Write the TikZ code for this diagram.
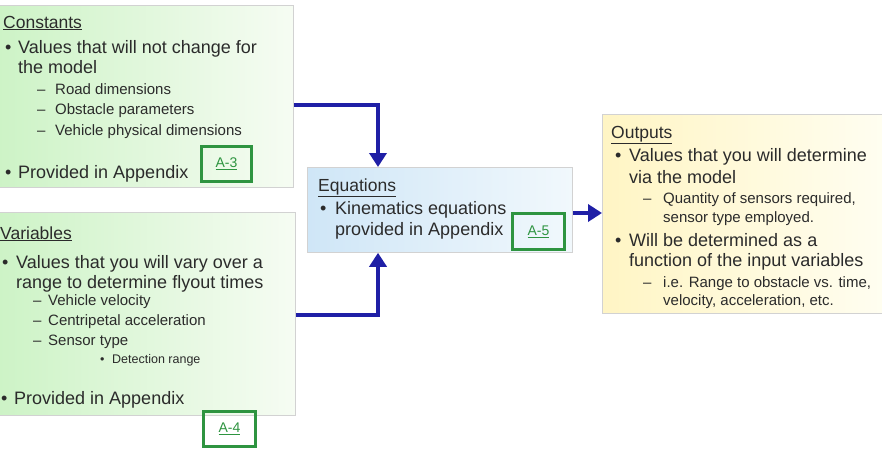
\documentclass[tikz,border=0pt]{standalone}
\usepackage{fontspec}
\setmainfont{Liberation Sans}
\usetikzlibrary{arrows.meta}
\definecolor{txt}{HTML}{2B2B2B}
\definecolor{arrblue}{HTML}{1F1FA6}
\definecolor{agreen}{HTML}{2E9440}
\definecolor{boxline}{HTML}{D2D2D2}
\definecolor{gL}{HTML}{CDF3C6}
\definecolor{gR}{HTML}{F6FCF3}
\definecolor{bL}{HTML}{CFE6F7}
\definecolor{bR}{HTML}{F1F8FC}
\definecolor{yL}{HTML}{FFF5C4}
\definecolor{yR}{HTML}{FFFEF2}
\tikzset{
  panel/.style={draw=boxline, line width=0.8pt, inner sep=0pt, anchor=north west},
  ttl/.style={anchor=base west, inner sep=0pt, text=txt, font=\fontsize{17.5}{20}\selectfont},
  mtxt/.style={anchor=base west, inner sep=0pt, text=txt, font=\fontsize{18}{20}\selectfont},
  stxt/.style={anchor=base west, inner sep=0pt, text=txt, font=\fontsize{15}{18}\selectfont},
  sstxt/.style={anchor=base west, inner sep=0pt, text=txt, font=\fontsize{12.5}{15}\selectfont},
  abox/.style={draw=agreen, line width=3pt, inner sep=0pt, text=agreen, font=\fontsize{14}{16}\selectfont},
  arr/.style={draw=arrblue, line width=4pt, -{Triangle[width=17pt,length=14pt]}},
}
\begin{document}
\begin{tikzpicture}[x=1pt,y=-1pt]
\useasboundingbox (0,0) rectangle (882,458);
\clip (0,0) rectangle (882,458);
\fill[white] (0,0) rectangle (882,458);

% panels
\node[panel, left color=gL, right color=gR, minimum width=295pt, minimum height=182pt] (const) at (-2,5) {};
\node[panel, left color=gL, right color=gR, minimum width=297pt, minimum height=203pt] (var) at (-2,212) {};
\node[panel, left color=bL, right color=bR, minimum width=265pt, minimum height=85pt] (eq) at (307,167) {};
\node[panel, left color=yL, right color=yR, minimum width=290pt, minimum height=199pt] (out) at (602,114) {};

% Constants text
\node[ttl] (c0) at (3,28) {\underline{Constants}};
\node[mtxt] (c1b) at (5,53) {•};
\node[mtxt] (c1) at (18,53) {Values that will not change for};
\node[mtxt] (c2) at (18,73) {the model};
\node[stxt] (c3d) at (37,94) {–};
\node[stxt] (c3) at (55,94) {Road dimensions};
\node[stxt] (c4d) at (37,114) {–};
\node[stxt] (c4) at (55,114) {Obstacle parameters};
\node[stxt] (c5d) at (37,135) {–};
\node[stxt] (c5) at (55,135) {Vehicle physical dimensions};
\node[mtxt] (c6b) at (5,178) {•};
\node[mtxt] (c6) at (18,178) {Provided in Appendix};
\node[abox, minimum width=50pt, minimum height=35pt] (a3) at (226.5,164) {\underline{A-3}};

% Variables text
\node[ttl] (v0) at (0,239) {\underline{Variables}};
\node[mtxt] (v1b) at (2,268) {•};
\node[mtxt] (v1) at (16,268) {Values that you will vary over a};
\node[mtxt] (v2) at (16,288) {range to determine flyout times};
\node[stxt] (v3d) at (33,305) {–};
\node[stxt] (v3) at (48,305) {Vehicle velocity};
\node[stxt] (v4d) at (33,325) {–};
\node[stxt] (v4) at (48,325) {Centripetal acceleration};
\node[stxt] (v5d) at (33,345) {–};
\node[stxt] (v5) at (48,345) {Sensor type};
\node[sstxt] (v6b) at (100,363.5) {•};
\node[sstxt] (v6) at (112,363.5) {Detection range};
\node[mtxt] (v7b) at (1,404) {•};
\node[mtxt] (v7) at (14,404) {Provided in Appendix};
\node[abox, minimum width=52pt, minimum height=35pt] (a4) at (229.5,429) {\underline{A-4}};

% Equations text
\node[ttl] (e0) at (318,191) {\underline{Equations}};
\node[mtxt] (e1b) at (320,214) {•};
\node[mtxt] (e1) at (335,214) {Kinematics equations};
\node[mtxt] (e2) at (335,235) {provided in Appendix};
\node[abox, minimum width=52pt, minimum height=36pt] (a5) at (538.5,231.5) {\underline{A-5}};

% Outputs text
\node[ttl] (o0) at (611,138) {\underline{Outputs}};
\node[mtxt] (o1b) at (615,161) {•};
\node[mtxt] (o1) at (629,161) {Values that you will determine};
\node[mtxt] (o2) at (629,183) {via the model};
\node[stxt] (o3d) at (643,203) {–};
\node[stxt] (o3) at (663,203) {Quantity of sensors required,};
\node[stxt] (o4) at (663,222) {sensor type employed.};
\node[mtxt] (o5b) at (615,246) {•};
\node[mtxt] (o5) at (629,246) {Will be determined as a};
\node[mtxt] (o6) at (629,266) {function of the input variables};
\node[stxt] (o7d) at (643,287) {–};
\node[stxt] (o7) at (663,287) {i.e. Range to obstacle vs. time,};
\node[stxt] (o8) at (663,305) {velocity, acceleration, etc.};

% connectors
\coordinate (t1) at (378,105);
\coordinate (b1) at (378,315);
\coordinate (r1) at (600,213);
\draw[arr] (const.east |- t1) -| (eq.north -| t1);
\draw[arr] (var.east |- b1) -| (eq.south -| b1);
\draw[arr] (eq.east |- r1) -- (out.west |- r1);
\end{tikzpicture}
\end{document}
